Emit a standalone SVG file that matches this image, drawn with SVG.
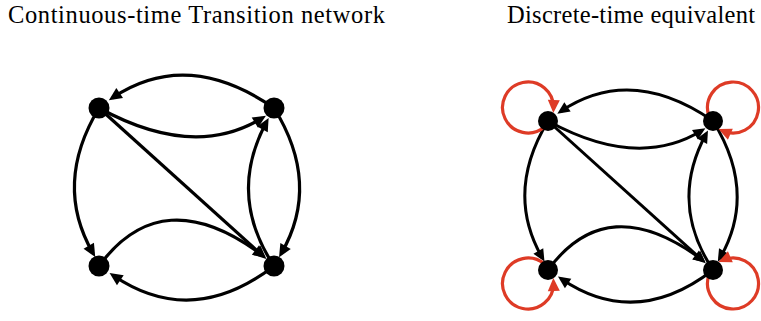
<svg xmlns="http://www.w3.org/2000/svg" width="761" height="321" viewBox="0 0 761 321">
<style>
.title{font-family:"Liberation Serif","Times New Roman",serif;font-size:24.5px;fill:#000}
.e{fill:none;stroke:#000;stroke-width:3.2;marker-end:url(#ah)}
.loop{fill:none;stroke:#de3b26;stroke-width:3.2;marker-end:url(#ahr)}
.node{fill:#000}
</style>
<defs>
<marker id="ah" markerUnits="userSpaceOnUse" markerWidth="14" markerHeight="13" refX="8.5" refY="6" orient="auto" overflow="visible"><path d="M0,0 L13,6 L0,12 z" fill="#000"/></marker>
<marker id="ahr" markerUnits="userSpaceOnUse" markerWidth="14" markerHeight="13" refX="8.5" refY="6" orient="auto" overflow="visible"><path d="M0,0 L13,6 L0,12 z" fill="#de3b26"/></marker>
</defs>
<rect width="761" height="321" fill="#fff"/>
<text class="title" x="8" y="23" textLength="377" lengthAdjust="spacing">Continuous-time Transition network</text>
<text class="title" x="507" y="23" textLength="248" lengthAdjust="spacing">Discrete-time equivalent</text>

<g id="connectors-continuous">
<path class="e" d="M274,108 Q187,48 112.6,97.8"/>
<path class="e" d="M99,108 Q194,160 262.1,118.1"/>
<path class="e" d="M99,108 Q53,184 93,253.2"/>
<path class="e" d="M274,108 Q321.3,184.1 281.3,253.4"/>
<path class="e" d="M274,266 Q227,195 266.5,122"/>
<path class="e" d="M99,266 Q162,180 262.3,255.1"/>
<path class="e" d="M274,266 Q192,329 113.3,275.5"/>
<path class="e" d="M99,108 L262.9,255.9"/>
</g>
<g id="c-n1"><circle class="node" cx="99" cy="108" r="10.5"/></g>
<g id="c-n2"><circle class="node" cx="274" cy="108" r="10.5"/></g>
<g id="c-n3"><circle class="node" cx="99" cy="266" r="10.5"/></g>
<g id="c-n4"><circle class="node" cx="274" cy="266" r="10.5"/></g>

<g id="connectors-discrete" transform="translate(548 121) scale(0.943) translate(-99 -108)">
<path class="e" d="M274,108 Q187,48 112.6,97.8"/>
<path class="e" d="M99,108 Q194,160 262.1,118.1"/>
<path class="e" d="M99,108 Q53,184 93,253.2"/>
<path class="e" d="M274,108 Q321.3,184.1 281.3,253.4"/>
<path class="e" d="M274,266 Q227,195 266.5,122"/>
<path class="e" d="M99,266 Q162,180 262.3,255.1"/>
<path class="e" d="M274,266 Q192,329 113.3,275.5"/>
<path class="e" d="M99,108 L262.9,255.9"/>
</g>
<g id="self-loops">
<path class="loop" d="M544.4,127 A25.5,25.5 0 1 1 553.5,108.4"/>
<path class="loop" d="M708.75,115.4 A25.5,25.5 0 1 1 722.6,130.8"/>
<path class="loop" d="M544.4,264 A25.5,25.5 0 1 0 553.5,282.6"/>
<path class="loop" d="M708.75,275.6 A25.5,25.5 0 1 0 722.6,260.2"/>
</g>
<g id="d-n1"><circle class="node" cx="548" cy="121" r="10"/></g>
<g id="d-n2"><circle class="node" cx="713" cy="121" r="10"/></g>
<g id="d-n3"><circle class="node" cx="548" cy="270" r="10"/></g>
<g id="d-n4"><circle class="node" cx="713" cy="270" r="10"/></g>
</svg>
